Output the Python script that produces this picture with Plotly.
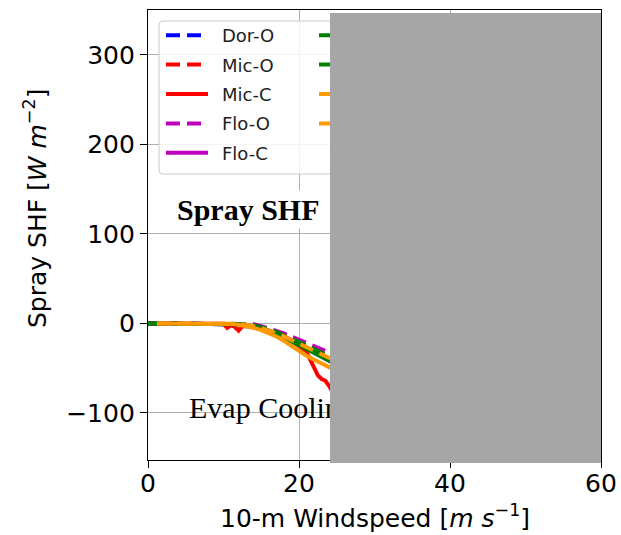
import plotly.graph_objects as go

# ---------------- data ----------------
wind = [0, 2, 4, 6, 8, 10, 11, 12, 13, 14, 15, 16, 17, 18, 19, 20, 21, 22, 23, 24, 25, 26]
wind_orange = [1.2, 2, 4, 6, 8, 10, 11, 12, 13, 14, 15, 16, 17, 18, 19, 20, 21, 22, 23, 24, 25, 26]

dor_o = [0, 0, 0, 0, 0, 0, 0, 0, -1, -2, -4, -6.5, -9.5, -13, -16.5, -20.5, -24.5, -29, -33, -37, -41, -45]
mic_o = [0, 0, 0, 0, 0, 0, 0, -0.5, -1.5, -2.5, -4.5, -7, -10, -13.5, -17.5, -21.5, -25.5, -29.5, -33.5, -37.5, -41.5, -45.5]
flo_o = [0, 0, 0, 0, 0, 0, 0, 0, -0.5, -1, -3, -5.5, -8, -11, -14.5, -18, -22, -25.5, -29, -32, -36, -40]
flo_c = [0, 0, 0, 0, 0, 0, -0.3, -0.8, -1.8, -3, -5, -8, -11, -14.5, -18.5, -23, -27.5, -32, -36.5, -41, -46, -51]
irm_o = [0, 0, 0, 0, 0, 0, 0, -0.5, -1, -2, -4, -6.5, -9.5, -13, -16.5, -20.5, -24.5, -28.5, -32.5, -37, -41, -45]
irm_c = [0, 0, 0, 0, 0, 0, -0.3, -0.8, -1.8, -3, -5, -8, -11.5, -15.5, -20, -24.5, -29, -33.5, -38, -42, -46, -50]
mar_o = [0, 0, 0, 0, 0, 0, 0, -0.5, -1.5, -3, -5, -8, -11, -14.5, -18.5, -22.5, -26.5, -30.5, -34.5, -38.5, -42.5, -46.5]
mar_c = [0, 0, 0, 0, 0, 0, -0.5, -1.5, -3, -5, -7.5, -10.5, -14.5, -19.5, -25, -31, -36, -40.5, -45, -49, -53, -57]

wind_mic_c = [0, 2, 4, 6, 8, 9, 10, 10.5, 11, 11.5, 12, 12.5, 13, 14, 15, 16, 17, 18, 19, 20, 21,
              21.5, 22, 22.5, 23, 23.5, 24, 24.5, 25, 26]
mic_c = [0, 0, 0, 0, 0, 0, -0.5, -5, -2, -4, -8, -3, -3, -4, -6, -9, -12, -16, -20, -25, -32,
         -40, -48, -58, -62, -64, -70, -77, -84, -95]

x_ticks = [0, 20, 40, 60]
y_ticks = [-100, 0, 100, 200, 300]

# ---------------- geometry helpers (pixel -> paper) ----------------
L, R, T, B = 148, 601, 10, 460
W_PLOT, H_PLOT = R - L, B - T


def px2x(px):
    return (px - L) / W_PLOT


def py2y(py):
    return (B - py) / H_PLOT


BLUE, RED, MAG, GREEN, ORANGE = "#0000ff", "#ff0000", "#bf00bf", "#008000", "#ff9900"
DASH = "14px,7px"
LW = 4
SP = "\u2002"  # small gap between legend sample and label

series = [
    ("Dor-O", wind, dor_o, BLUE, DASH, "legend", 1),
    ("Mic-O", wind, mic_o, RED, DASH, "legend", 2),
    ("Mic-C", wind_mic_c, mic_c, RED, "solid", "legend", 3),
    ("Flo-O", wind, flo_o, MAG, DASH, "legend", 4),
    ("Flo-C", wind, flo_c, MAG, "solid", "legend", 5),
    ("Irm-O", wind, irm_o, GREEN, DASH, "legend2", 6),
    ("Irm-C", wind, irm_c, GREEN, "solid", "legend2", 7),
    ("Mar-O", wind_orange, mar_o, ORANGE, DASH, "legend2", 8),
    ("Mar-C", wind_orange, mar_c, ORANGE, "solid", "legend2", 9),
]

fig = go.Figure()
for name, xs, ys, col, dash, leg, rank in series:
    fig.add_trace(go.Scatter(
        x=xs, y=ys, mode="lines", name=SP + name,
        line=dict(color=col, width=LW, dash=dash),
        legend=leg, legendgroup=name, legendrank=rank,
    ))

FONT = "DejaVu Sans"
axis_common = dict(
    showline=True, mirror=True, linecolor="black", linewidth=1.3,
    ticks="outside", ticklen=7, tickwidth=1.3, tickcolor="black",
    showgrid=True, gridcolor="#b0b0b0", gridwidth=1, zeroline=False,
    tickfont=dict(family=FONT, size=25, color="black"),
)

fig.update_layout(
    width=621, height=535,
    margin=dict(l=L, r=621 - R, t=T, b=535 - B, autoexpand=False),
    paper_bgcolor="white", plot_bgcolor="white",
    showlegend=True,
    xaxis=dict(range=[0, 60], tickvals=x_ticks, ticklabelstandoff=-6, **axis_common),
    yaxis=dict(range=[-152.5, 350], tickvals=y_ticks, **axis_common),
    legend=dict(
        x=px2x(161), y=py2y(17), xanchor="left", yanchor="top",
        bgcolor="rgba(0,0,0,0)", borderwidth=0,
        font=dict(family=FONT, size=18, color="#222"),
        traceorder="grouped", tracegroupgap=3, itemwidth=42,
    ),
    legend2=dict(
        x=px2x(314), y=py2y(17), xanchor="left", yanchor="top",
        bgcolor="rgba(0,0,0,0)", borderwidth=0,
        font=dict(family=FONT, size=18, color="#222"),
        traceorder="grouped", tracegroupgap=3, itemwidth=42,
    ),
)

# legend frame (rounded)
x0, x1 = px2x(159), px2x(420)
y0, y1 = py2y(174), py2y(21)
rx, ry = 4 / W_PLOT, 4 / H_PLOT
path = (f"M{x0 + rx},{y1} L{x1 - rx},{y1} Q{x1},{y1} {x1},{y1 - ry} "
        f"L{x1},{y0 + ry} Q{x1},{y0} {x1 - rx},{y0} L{x0 + rx},{y0} "
        f"Q{x0},{y0} {x0},{y0 + ry} L{x0},{y1 - ry} Q{x0},{y1} {x0 + rx},{y1} Z")
fig.add_shape(type="path", path=path, xref="paper", yref="paper",
              fillcolor="rgba(255,255,255,0.85)", line=dict(color="#cccccc", width=1),
              layer="above")

# axis titles
fig.add_annotation(
    text="10-m Windspeed [<i>m s</i><sup>−1</sup>]", xref="paper", yref="paper",
    x=0.5, y=py2y(516), xanchor="center", yanchor="middle", showarrow=False,
    font=dict(family=FONT, size=25, color="black"),
)
fig.add_annotation(
    text="Spray SHF [<i>W m</i><sup>−2</sup>]", xref="paper", yref="paper",
    x=px2x(36), y=py2y(209), xanchor="center", yanchor="middle", showarrow=False,
    textangle=-90, font=dict(family=FONT, size=25, color="black"),
)

# in-plot labels
fig.add_annotation(
    text="<b>Spray SHF</b>", x=3.4, y=127, xref="x", yref="y",
    xanchor="left", yanchor="middle", showarrow=False,
    bgcolor="white", borderpad=2,
    font=dict(family="Liberation Serif", size=30, color="black"),
)
fig.add_annotation(
    text="Evap Cooling", x=5.1, y=-94, xref="x", yref="y",
    xanchor="left", yanchor="middle", showarrow=False,
    font=dict(family="Liberation Serif", size=30, color="black"),
)

# grey occluding block
fig.add_annotation(
    text=" ", xref="paper", yref="paper", x=px2x(330), y=py2y(13),
    xanchor="left", yanchor="top", showarrow=False,
    width=271, height=450, bgcolor="#a6a6a6", borderpad=0, borderwidth=0,
)

fig.write_html("out.html")
